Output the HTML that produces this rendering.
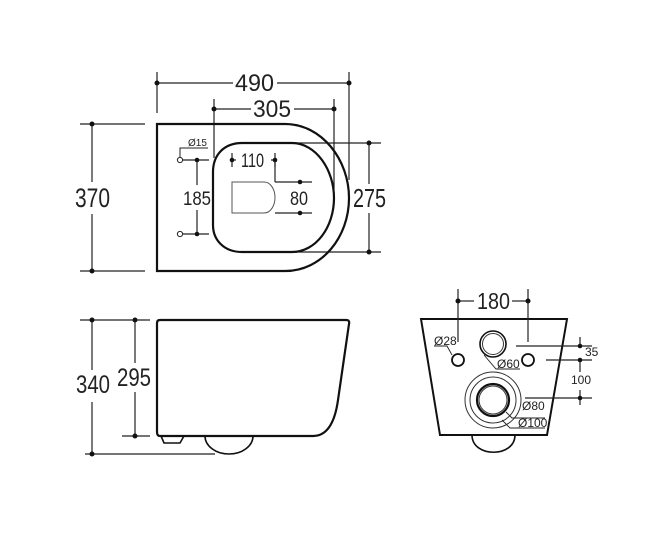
<!DOCTYPE html>
<html><head><meta charset="utf-8"><style>
html,body{margin:0;padding:0;background:#fff;}
svg{display:block;}
text{font-family:"Liberation Sans",sans-serif;fill:#222;}
</style></head><body>
<svg width="652" height="539" viewBox="0 0 652 539" xmlns="http://www.w3.org/2000/svg">
<rect width="652" height="539" fill="#fff"/>
<g fill="none" stroke="#222" stroke-width="1.2">
<!-- TOP VIEW dimension lines -->
<line x1="157" y1="72" x2="157" y2="113"/>
<line x1="349" y1="72" x2="349" y2="180"/>
<line x1="157" y1="83" x2="233" y2="83"/><line x1="277" y1="83" x2="349" y2="83"/>
<line x1="214" y1="99" x2="214" y2="158"/>
<line x1="334" y1="99" x2="334" y2="190"/>
<line x1="214" y1="109" x2="251" y2="109"/><line x1="294" y1="109" x2="334" y2="109"/>
<line x1="92" y1="124" x2="92" y2="182"/><line x1="92" y1="214" x2="92" y2="271"/>
<line x1="80" y1="124" x2="145" y2="124"/><line x1="80" y1="271" x2="145" y2="271"/>
<line x1="290" y1="143" x2="381" y2="143"/><line x1="290" y1="252" x2="381" y2="252"/>
<line x1="369" y1="143" x2="369" y2="184"/><line x1="369" y1="213" x2="369" y2="252"/>
<line x1="197" y1="160" x2="197" y2="185"/><line x1="197" y1="210" x2="197" y2="234"/>
<line x1="183" y1="160" x2="209" y2="160"/><line x1="183" y1="234" x2="209" y2="234"/>
<line x1="232" y1="153" x2="232" y2="167"/><line x1="275" y1="153" x2="275" y2="167"/>
<line x1="232" y1="160" x2="236" y2="160"/><line x1="271" y1="160" x2="275" y2="160"/>
<line x1="275" y1="160" x2="275" y2="182"/>
<line x1="275" y1="182" x2="312" y2="182"/><line x1="275" y1="213" x2="312" y2="213"/>
<path d="M180,157 V148 H208" stroke-width="1"/>
</g>
<!-- top view shapes -->
<path d="M157,124 H285 C322,124 349,160 349,198 C349,237 322,271 285,271 H157 Z" fill="none" stroke="#111" stroke-width="2.2"/>
<path d="M242,143 H292 C316,143 334,170 334,198 C334,227 316,252 292,252 H242 C224,252 213,240 213,225 V172 C213,155 224,143 242,143 Z" fill="none" stroke="#111" stroke-width="2.2"/>
<path d="M232,182 H264 C271,182 275,190 275,197.5 C275,205 271,213 264,213 H232 Z" fill="none" stroke="#555" stroke-width="1"/>
<circle cx="180" cy="160" r="2.6" fill="#fff" stroke="#222" stroke-width="1"/>
<circle cx="180" cy="234" r="2.6" fill="#fff" stroke="#222" stroke-width="1"/>
<g fill="#111">
<circle cx="157" cy="83" r="2.5"/><circle cx="349" cy="83" r="2.5"/>
<circle cx="214" cy="109" r="2.5"/><circle cx="334" cy="109" r="2.5"/>
<circle cx="92" cy="124" r="2.5"/><circle cx="92" cy="271" r="2.5"/>
<circle cx="369" cy="143" r="2.5"/><circle cx="369" cy="252" r="2.5"/>
<circle cx="197" cy="160" r="2.3"/><circle cx="197" cy="234" r="2.3"/>
<circle cx="232" cy="160" r="2.3"/><circle cx="275" cy="160" r="2.3"/>
<circle cx="300" cy="182" r="2.3"/><circle cx="300" cy="213" r="2.3"/>
</g>
<text x="235" y="91" font-size="24" textLength="39" lengthAdjust="spacingAndGlyphs">490</text>
<text x="253" y="117" font-size="24" textLength="38" lengthAdjust="spacingAndGlyphs">305</text>
<text x="75" y="207" font-size="27" textLength="35" lengthAdjust="spacingAndGlyphs">370</text>
<text x="353" y="207" font-size="26" textLength="33" lengthAdjust="spacingAndGlyphs">275</text>
<text x="183" y="205" font-size="19" textLength="28" lengthAdjust="spacingAndGlyphs">185</text>
<text x="241" y="167" font-size="19" textLength="23" lengthAdjust="spacingAndGlyphs">110</text>
<text x="290" y="205" font-size="19" textLength="18" lengthAdjust="spacingAndGlyphs">80</text>
<text x="188" y="146" font-size="10">Ø15</text>

<!-- SIDE VIEW -->
<g fill="none" stroke="#222" stroke-width="1.2">
<line x1="80" y1="320" x2="150" y2="320"/>
<line x1="92" y1="320" x2="92" y2="370"/><line x1="92" y1="402" x2="92" y2="454"/>
<line x1="85" y1="454" x2="215" y2="454"/>
<line x1="135" y1="320" x2="135" y2="363"/><line x1="135" y1="392" x2="135" y2="436"/>
<line x1="122" y1="436" x2="150" y2="436"/>
</g>
<g fill="#111">
<circle cx="92" cy="320" r="2.5"/><circle cx="92" cy="454" r="2.5"/>
<circle cx="135" cy="320" r="2.5"/><circle cx="135" cy="436" r="2.5"/>
</g>
<path d="M160,320 H346 Q350,320 349,324 L338,400 Q333,436 313,436 H160 Q157,436 157,432 V323 Q157,320 160,320 Z" fill="none" stroke="#111" stroke-width="2.2"/>
<path d="M161,436 L164,443 H180 L184,436" fill="none" stroke="#111" stroke-width="1.6"/>
<path d="M205,436 A24,18 0 0 0 253,436" fill="none" stroke="#111" stroke-width="1.6"/>
<text x="76" y="393" font-size="25" textLength="34" lengthAdjust="spacingAndGlyphs">340</text>
<text x="117" y="386" font-size="25" textLength="34" lengthAdjust="spacingAndGlyphs">295</text>

<!-- FRONT VIEW -->
<path d="M421,319 H567 L547,435 H440 Z" fill="none" stroke="#111" stroke-width="2"/>
<path d="M472,435 C472,458 515,458 515,435" fill="none" stroke="#111" stroke-width="1.6"/>
<g fill="none" stroke="#222" stroke-width="1.2">
<line x1="458" y1="289" x2="458" y2="342"/><line x1="528" y1="289" x2="528" y2="342"/>
<line x1="458" y1="301" x2="474" y2="301"/><line x1="512" y1="301" x2="528" y2="301"/>
<line x1="516" y1="346" x2="592" y2="346"/><line x1="546" y1="360" x2="592" y2="360"/><line x1="525" y1="398" x2="592" y2="398"/>
<line x1="580" y1="337" x2="580" y2="346"/><line x1="580" y1="360" x2="580" y2="372"/><line x1="580" y1="390" x2="580" y2="405"/>
</g>
<g fill="#111">
<circle cx="458" cy="301" r="2.5"/><circle cx="528" cy="301" r="2.5"/>
<circle cx="580" cy="346" r="2.3"/><circle cx="580" cy="360" r="2.3"/><circle cx="580" cy="398" r="2.3"/>
</g>
<circle cx="458" cy="360" r="6" fill="none" stroke="#111" stroke-width="1.8"/>
<circle cx="528" cy="360" r="6" fill="none" stroke="#111" stroke-width="1.8"/>
<circle cx="493" cy="344" r="13" fill="none" stroke="#111" stroke-width="1.6"/>
<circle cx="493" cy="344" r="10.5" fill="none" stroke="#333" stroke-width="1"/>
<circle cx="493" cy="400" r="16" fill="none" stroke="#111" stroke-width="2.2"/>
<circle cx="493" cy="400" r="14" fill="none" stroke="#333" stroke-width="1"/>
<circle cx="493" cy="400" r="23" fill="none" stroke="#333" stroke-width="1"/>
<circle cx="493" cy="400" r="28" fill="none" stroke="#333" stroke-width="1"/>
<g fill="none" stroke="#222" stroke-width="0.9">
<path d="M452,355 L447,346 H434"/>
<path d="M484,355 L496,369 H520"/>
<path d="M506,412 L512,418 H545"/>
<path d="M502,420 L510,428 H545"/>
</g>
<text x="477" y="309" font-size="23" textLength="33" lengthAdjust="spacingAndGlyphs">180</text>
<text x="434" y="345" font-size="12">Ø28</text>
<text x="497" y="368" font-size="12">Ø60</text>
<text x="522" y="410" font-size="12">Ø80</text>
<text x="518" y="427" font-size="12">Ø100</text>
<text x="585" y="356" font-size="12">35</text>
<text x="571" y="384" font-size="12">100</text>
</svg>
</body></html>
